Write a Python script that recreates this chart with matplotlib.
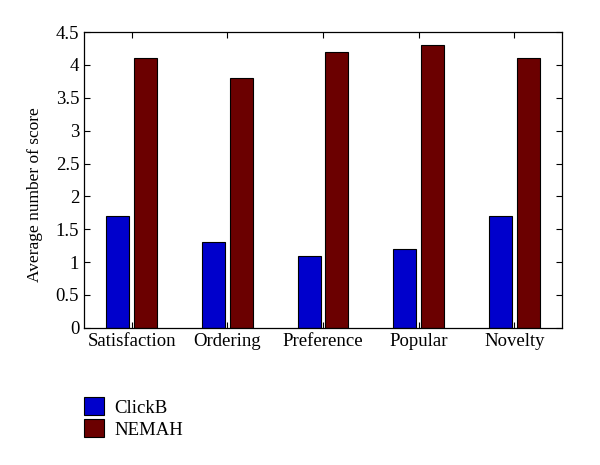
import numpy as np
import matplotlib
matplotlib.use("Agg")
import matplotlib.pyplot as plt

categories = ["Satisfaction", "Ordering", "Preference", "Popular", "Novelty"]
clickb = [1.7, 1.3, 1.1, 1.2, 1.7]
nemah = [4.1, 3.8, 4.2, 4.3, 4.1]

plt.rcParams["font.family"] = ["Liberation Serif", "DejaVu Serif"]

fig = plt.figure(figsize=(6, 4.65), dpi=100)
ax = fig.add_axes([0.14, 0.295, 0.797, 0.636])

x = np.arange(1, len(categories) + 1)
w = 0.24
off = 0.145
ax.bar(x - off, clickb, w, color="#0000cc", edgecolor="black", linewidth=0.8, label="ClickB")
ax.bar(x + off, nemah, w, color="#6b0000", edgecolor="black", linewidth=0.8, label="NEMAH")

ax.set_xlim(0.5, 5.5)
ax.set_ylim(0, 4.5)
ax.set_xticks(x)
ax.set_xticklabels(categories)
ax.set_yticks(np.arange(0, 4.51, 0.5))
ax.set_yticklabels(["0", "0.5", "1", "1.5", "2", "2.5", "3", "3.5", "4", "4.5"])
ax.tick_params(direction="in", top=True, right=True, labelsize=13.5, length=4, width=0.8)
ax.set_ylabel("Average number of score", fontsize=12.5)
ax.yaxis.set_label_coords(-0.085, 0.45)
for s in ax.spines.values():
    s.set_linewidth(0.9)

fig.legend(loc="upper left", bbox_to_anchor=(0.127, 0.162), frameon=False,
           fontsize=13.5, handlelength=1.1, handleheight=1.1, handletextpad=0.55,
           labelspacing=0.15, borderaxespad=0)

fig.savefig("out.png", dpi=100)
